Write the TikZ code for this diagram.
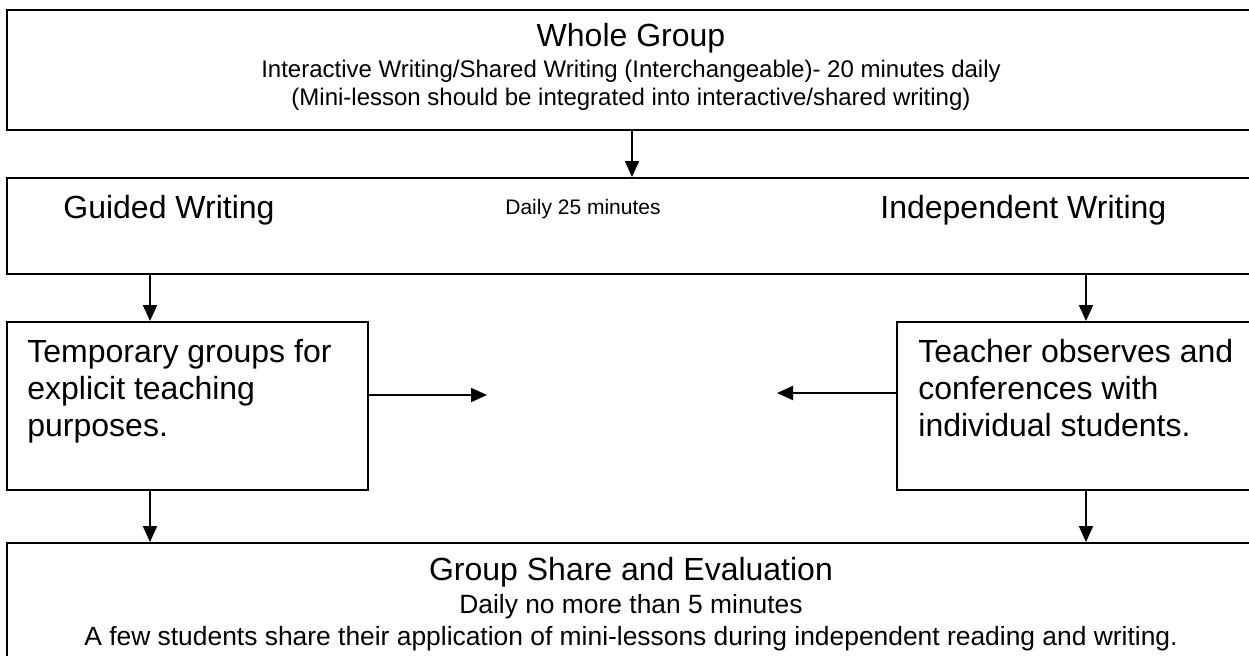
\documentclass[tikz,border=0pt]{standalone}
\usepackage{fontspec}
\setmainfont{Liberation Sans}
\usetikzlibrary{arrows.meta,calc}

\begin{document}
\begin{tikzpicture}[
  x=0.5pt, y=-0.5pt, >={Triangle[length=8pt,width=7pt]},
  box/.style={draw,line width=1pt,inner sep=0pt,anchor=north west},
  head/.style={font=\fontsize{16}{18.4}\selectfont,inner sep=0pt,anchor=base},
  small/.style={font=\fontsize{12}{14}\selectfont,inner sep=0pt,anchor=base},
  para/.style={font=\fontsize{16}{18.4}\selectfont,inner sep=0pt,align=left,anchor=north west},
  link/.style={->,line width=1pt},
]
\clip (0,0) rectangle (1249,655);

% the five boxes
\node[box,minimum width=625pt,minimum height=60pt] (whole)  at (6,9)   {};
\node[box,minimum width=625pt,minimum height=48pt] (daily)  at (6,177) {};
\node[box,minimum width=180.5pt,minimum height=84pt] (guided) at (6,321) {};
\node[box,minimum width=180pt,minimum height=84pt] (indep)  at (896,321) {};
\node[box,minimum width=625pt,minimum height=60pt] (share)  at (6,542) {};

% texts
\node[head]  (wgTitle) at (631,46)  {Whole Group};
\node[small] (wgLine1) at (631,77)  {Interactive Writing/Shared Writing (Interchangeable)- 20 minutes daily};
\node[small] (wgLine2) at (631,105) {(Mini-lesson should be integrated into interactive/shared writing)};
\node[head,anchor=base west]  (gwTitle) at (63,218)  {Guided Writing};
\node[small,font=\fontsize{10.5}{12}\selectfont,anchor=base west] (dlTime) at (505,214) {Daily 25 minutes};
\node[head,anchor=base west]  (iwTitle) at (880,218) {Independent Writing};
\node[para] (gwText) at (27,339)  {Temporary groups for\\explicit teaching\\purposes.};
\node[para] (iwText) at (918,339) {Teacher observes and\\conferences with\\individual students.};
\node[head]  (shTitle) at (631,580) {Group Share and Evaluation};
\node[small,font=\fontsize{13.2}{15}\selectfont] (shLine1) at (631,613) {Daily no more than 5 minutes};
\node[small,font=\fontsize{13.2}{15}\selectfont] (shLine2) at (631,645) {A few students share their application of mini-lessons during independent reading and writing.};

% connectors
\coordinate (gx) at (150,0);
\coordinate (ix) at (1086,0);
\coordinate (gEnd) at (487,395);
\coordinate (iEnd) at (777,393);
\draw[link] (whole) -- (daily);
\draw[link] (daily.south -| gx) -- (guided.north -| gx);
\draw[link] (daily.south -| ix) -- (indep.north -| ix);
\draw[link] (guided.south -| gx) -- (share.north -| gx);
\draw[link] (indep.south -| ix) -- (share.north -| ix);
\draw[link] (guided.east |- gEnd) -- (gEnd);
\draw[link] (indep.west |- iEnd) -- (iEnd);
\end{tikzpicture}
\end{document}
